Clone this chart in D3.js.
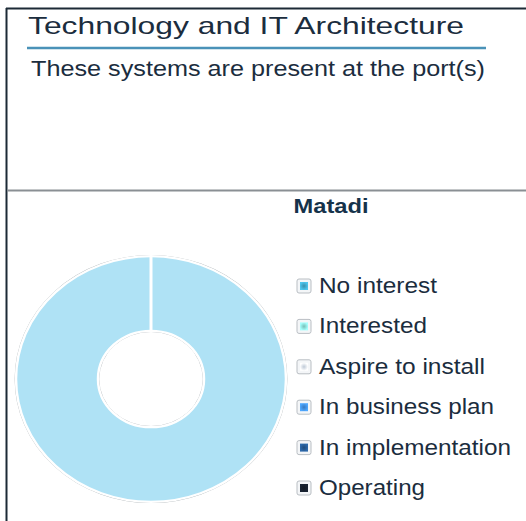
<!DOCTYPE html>
<html>
<head>
<meta charset="utf-8">
<script src="https://cdn.jsdelivr.net/npm/d3@7"></script>
<style>
    html, body { margin: 0; padding: 0; background: #fff; }
    svg { display: block; font-family: "Liberation Sans", Arial, sans-serif; }
</style>
</head>
<body>
<svg id="chart" width="526" height="521"></svg>
<script>
// chart data
var title = "Technology and IT Architecture";
var subtitle = "These systems are present at the port(s)";
var portName = "Matadi";
var legendLabels = ["No interest", "Interested", "Aspire to install", "In business plan", "In implementation", "Operating"];
var legendColors = ["#3f9fbf", "#86d3cc", "#d4e0ee", "#3f88d6", "#24558a", "#141c28"];
// the donut shows a single full slice
var sliceLabels = ["Matadi"];
var sliceValues = [100];
var sliceColors = ["#afe2f5"];

var svg = d3.select("#chart");
var width = 526, height = 521;
var textColor = "#1b2d3e";

var defs = svg.append("defs");
legendColors.forEach(function (c, i) {
    var g = defs.append("radialGradient").attr("id", "lg" + i);
    g.append("stop").attr("offset", "0%").attr("stop-color", d3.color(c).darker(0.3));
    g.append("stop").attr("offset", "100%").attr("stop-color", d3.color(c).brighter(0.6));
});

// frame
svg.append("line").attr("x1", 6).attr("x2", width).attr("y1", 8.5).attr("y2", 8.5)
    .attr("stroke", "#1c2a36").attr("stroke-width", 2);
svg.append("line").attr("x1", 6.5).attr("x2", 6.5).attr("y1", 8).attr("y2", height)
    .attr("stroke", "#1c2a36").attr("stroke-width", 2);
svg.append("line").attr("x1", 7).attr("x2", width).attr("y1", 190.5).attr("y2", 190.5)
    .attr("stroke", "#8a8f94").attr("stroke-width", 2);

// fits a text into a target width
function fitText(sel, w) {
    sel.attr("textLength", w).attr("lengthAdjust", "spacingAndGlyphs");
}

var t = svg.append("text").attr("x", 28).attr("y", 34).attr("font-size", 24)
    .attr("fill", textColor).text(title);
fitText(t, 436);
svg.append("line").attr("x1", 27).attr("x2", 486).attr("y1", 48).attr("y2", 48)
    .attr("stroke", "#4a92b8").attr("stroke-width", 2.5);
var st = svg.append("text").attr("x", 31).attr("y", 76).attr("font-size", 21.5)
    .attr("fill", textColor).text(subtitle);
fitText(st, 454);

var pt = svg.append("text").attr("x", 331).attr("y", 213).attr("font-size", 21)
    .attr("font-weight", "bold").attr("text-anchor", "middle")
    .attr("fill", "#15324a").text(portName);
fitText(pt, 75);

// donut
var rOuter = 135, rInner = 53;
var pie = d3.pie().sort(null)(sliceValues);
var arc = d3.arc().innerRadius(rInner).outerRadius(rOuter);
var donut = svg.append("g").attr("transform", "translate(151,379) scale(1,0.91)");
donut.append("ellipse").attr("rx", rOuter + 0.8).attr("ry", rOuter + 0.8)
    .attr("fill", "none").attr("stroke", "#a9b0b4").attr("stroke-width", 1.2);
donut.append("ellipse").attr("rx", rInner - 0.8).attr("ry", rInner - 0.8)
    .attr("fill", "none").attr("stroke", "#b7bcc0").attr("stroke-width", 1);
donut.selectAll("path.slice")
    .data(pie)
    .enter().append("path")
    .attr("class", "slice")
    .attr("d", arc)
    .attr("fill", function (d, i) { return sliceColors[i]; })
    .attr("stroke", "#fff")
    .attr("stroke-width", 2.5);
// white slice edges
donut.selectAll("line.edge")
    .data(pie)
    .enter().append("line")
    .attr("class", "edge")
    .attr("x1", function (d) { return Math.sin(d.startAngle) * rInner; })
    .attr("y1", function (d) { return -Math.cos(d.startAngle) * rInner; })
    .attr("x2", function (d) { return Math.sin(d.startAngle) * rOuter; })
    .attr("y2", function (d) { return -Math.cos(d.startAngle) * rOuter; })
    .attr("stroke", "#fff")
    .attr("stroke-width", 3);

// legend
var legendY = d3.scalePoint().domain(legendLabels).range([279, 481]);
var legendWidths = [118, 108, 166, 175, 192, 106];
var item = svg.append("g").selectAll("g")
    .data(legendLabels)
    .enter().append("g")
    .attr("transform", function (d) { return "translate(297," + legendY(d) + ")"; });
item.append("rect").attr("width", 14).attr("height", 14).attr("rx", 2)
    .attr("fill", "#f4f6f8").attr("stroke", "#b9bec3").attr("stroke-width", 1);
item.append("rect").attr("x", 3).attr("y", 3).attr("width", 8).attr("height", 8)
    .attr("fill", function (d, i) { return "url(#lg" + i + ")"; });
item.append("text").attr("x", 22).attr("y", 14).attr("font-size", 22)
    .attr("fill", textColor)
    .text(function (d) { return d; })
    .each(function (d, i) { fitText(d3.select(this), legendWidths[i]); });
</script>
</body>
</html>
